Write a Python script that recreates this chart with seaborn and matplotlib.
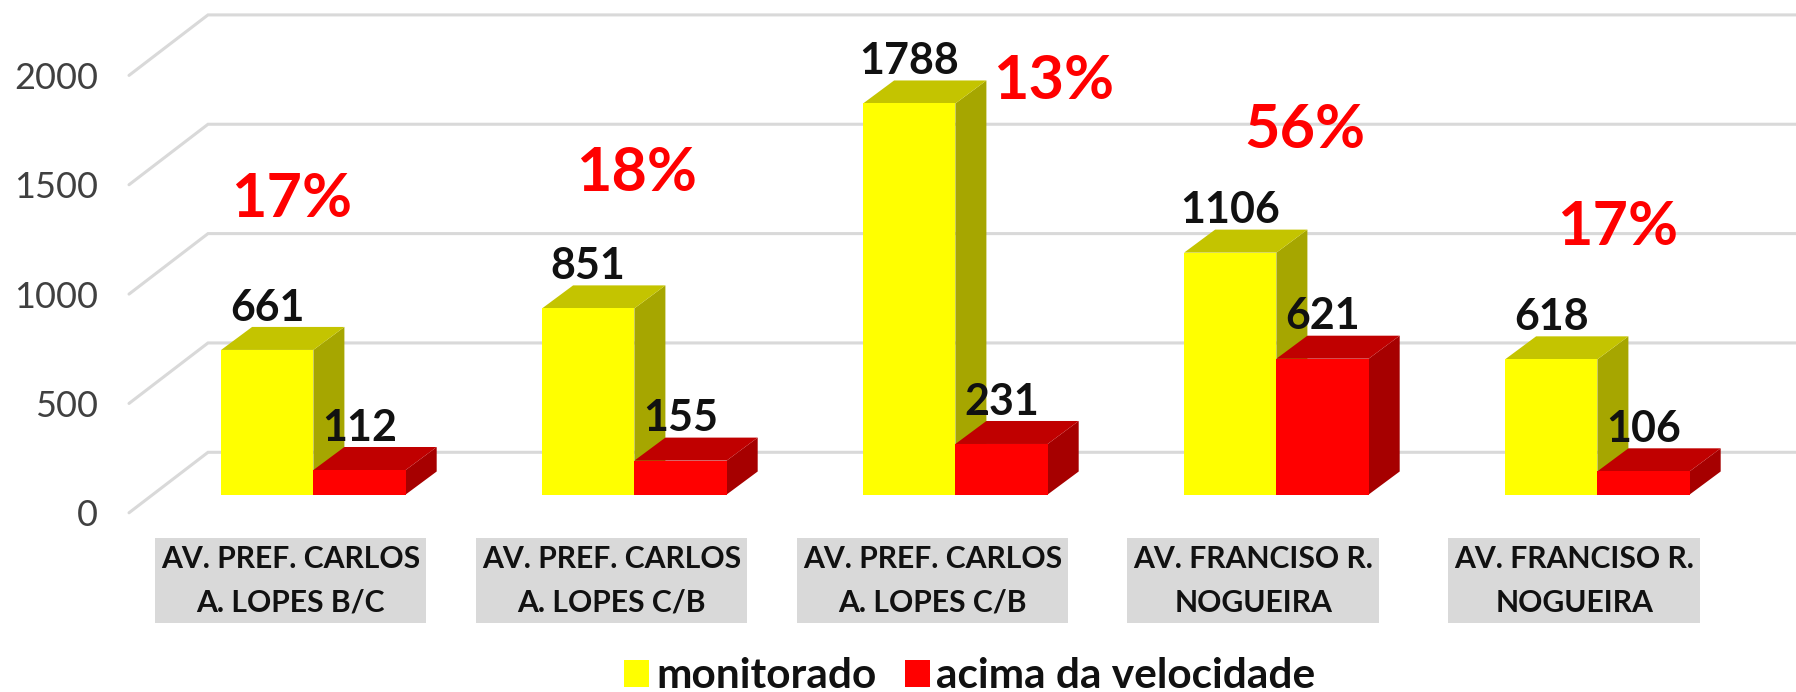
import matplotlib
matplotlib.use("Agg")
import matplotlib.pyplot as plt
import matplotlib.transforms as mtrans
from matplotlib.patches import Polygon
import pandas as pd
import seaborn as sns

# values
vias = ["v1", "v2", "v3", "v4", "v5"]
via_labels = ["AV. PREF. CARLOS\nA. LOPES B/C", "AV. PREF. CARLOS\nA. LOPES C/B",
              "AV. PREF. CARLOS\nA. LOPES C/B", "AV. FRANCISO R.\nNOGUEIRA",
              "AV. FRANCISO R.\nNOGUEIRA"]
monitorado = [661, 851, 1788, 1106, 618]
acima = [112, 155, 231, 621, 106]
pct_labels = ["17%", "18%", "13%", "56%", "17%"]
y_ticks = [0, 500, 1000, 1500, 2000]

W, H = 1796, 692
PX_X = 321.0        # pixels per category
PX_Y = 0.2187       # pixels per unit
BASE = 494.5        # pixel row of the zero line of the bars
LEFT = 129.0
BAR_W = 0.575
# pixel centres of the percent labels
pct_px = [(292, 199), (637, 173), (1054, 81), (1305, 130), (1618, 227)]

sns.set_style("white")
plt.rcParams["font.family"] = ["Lato", "DejaVu Sans"]

df = pd.DataFrame({
    "via": vias * 2,
    "valor": monitorado + acima,
    "serie": ["monitorado"] * 5 + ["acima da velocidade"] * 5,
})

fig = plt.figure(figsize=(W / 100, H / 100), dpi=100)
ax = fig.add_axes([LEFT / W, 1 - BASE / H, 1 - LEFT / W, (BASE - 1) / H])
ax.patch.set_visible(False)

sns.barplot(data=df, x="via", y="valor", hue="serie", order=vias,
            hue_order=["monitorado", "acima da velocidade"],
            palette=["#FFFF00", "#FF0000"], saturation=1, width=BAR_W, gap=0,
            linewidth=0, ax=ax, zorder=5)

x0 = (LEFT - 313.4) / PX_X
ax.set_xlim(x0, x0 + (W - LEFT) / PX_X)
ax.set_ylim(0, (BASE - 1) / PX_Y)


def dx(px):
    return px / PX_X


def dy(px):
    return px / PX_Y


# gridlines: floor offset below the bars, then up the back wall
wall_drop = dy(18.3)
for v in y_ticks:
    y_front = v - wall_drop
    y_back = y_front + dy(60.5)
    ax.plot([x0, x0 + dx(79), x0 + (W - LEFT) / PX_X], [y_front, y_back, y_back],
            color="#D9D9D9", lw=2.2, clip_on=False, zorder=1, solid_joinstyle="miter")


def box_faces(x_left, x_right, val, top_col, side_col, z):
    ddx, ddy = dx(31), dy(23)
    top = [(x_left, val), (x_right, val), (x_right + ddx, val + ddy), (x_left + ddx, val + ddy)]
    side = [(x_right, 0), (x_right + ddx, ddy), (x_right + ddx, val + ddy), (x_right, val)]
    ax.add_patch(Polygon(side, fc=side_col, ec="none", zorder=z, clip_on=False))
    ax.add_patch(Polygon(top, fc=top_col, ec="none", zorder=z, clip_on=False))


for i in range(len(vias)):
    box_faces(i - BAR_W / 2, i, monitorado[i], "#C4C400", "#A6A600", 3)
    box_faces(i, i + BAR_W / 2, acima[i], "#C00000", "#A60000", 4)

for container in ax.containers:
    ax.bar_label(container, fmt="%d", padding=16, fontsize=31, fontweight="bold",
                 color="#111111", zorder=8, clip_on=False)

# percent labels
for txt, (px, py) in zip(pct_labels, pct_px):
    fig.text(px / W, 1 - py / H, txt, color="#FF0000", fontsize=44, fontweight="bold",
             ha="center", va="center")

# axes
ax.set_xlabel("")
ax.set_ylabel("")
sns.despine(ax=ax, left=True, bottom=True)
ax.set_yticks(y_ticks)
ax.set_xticks(range(len(vias)))
ax.set_xticklabels(via_labels)
ax.tick_params(axis="y", length=0, pad=22.5, labelsize=26, labelcolor="#404040")
ax.tick_params(axis="x", length=0, pad=36, labelsize=21.7, labelcolor="#111111")
for lab in ax.get_yticklabels():
    lab.set_transform(lab.get_transform() + mtrans.ScaledTranslation(0, -18.3 / 100, fig.dpi_scale_trans))
for lab in ax.get_xticklabels():
    lab.set_fontweight("bold")
    lab.set_linespacing(1.7)
    lab.set_bbox(dict(boxstyle="square,pad=0.2", fc="#D9D9D9", ec="none"))
    lab.set_transform(lab.get_transform() + mtrans.ScaledTranslation(-23 / 100, 0, fig.dpi_scale_trans))

# legend
handles, labels = ax.get_legend_handles_labels()
ax.legend(handles, labels, ncol=2, frameon=False, loc="lower center",
          bbox_to_anchor=(0.54, -0.005), bbox_transform=fig.transFigure,
          prop={"size": 30.5, "weight": "bold"}, handlelength=0.59, handleheight=0.59,
          handletextpad=0.16, columnspacing=0.67, borderpad=0, borderaxespad=0,
          labelcolor="#111111")

fig.savefig("out.png", dpi=100)
